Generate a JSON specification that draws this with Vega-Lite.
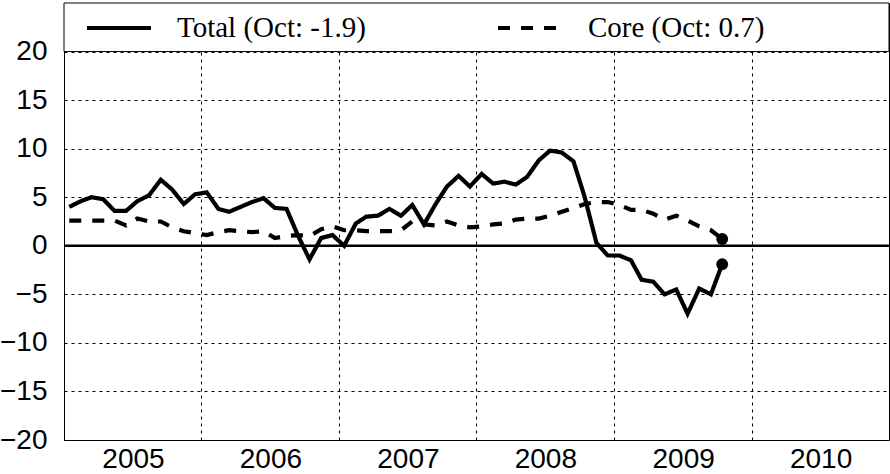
{
  "$schema": "https://vega.github.io/schema/vega-lite/v6.json",
  "width": 825,
  "height": 437,
  "autosize": {"type": "none"},
  "padding": {"left": 64, "top": 3, "right": 1, "bottom": 34},
  "background": "white",
  "config": {
    "view": {"stroke": "black", "strokeWidth": 1},
    "font": "Liberation Sans"
  },
  "data": {
    "values": [
      {"month": "2005-01-15", "total": 4.0, "core": 2.6},
      {"month": "2005-02-15", "total": 4.6, "core": 2.6},
      {"month": "2005-03-15", "total": 5.0, "core": 2.6},
      {"month": "2005-04-15", "total": 4.8, "core": 2.6},
      {"month": "2005-05-15", "total": 3.6, "core": 2.6},
      {"month": "2005-06-15", "total": 3.6, "core": 2.1},
      {"month": "2005-07-15", "total": 4.6, "core": 2.8},
      {"month": "2005-08-15", "total": 5.2, "core": 2.5},
      {"month": "2005-09-15", "total": 6.8, "core": 2.5},
      {"month": "2005-10-15", "total": 5.8, "core": 1.9},
      {"month": "2005-11-15", "total": 4.3, "core": 1.5},
      {"month": "2005-12-15", "total": 5.3, "core": 1.3},
      {"month": "2006-01-15", "total": 5.5, "core": 1.1},
      {"month": "2006-02-15", "total": 3.8, "core": 1.4},
      {"month": "2006-03-15", "total": 3.5, "core": 1.6},
      {"month": "2006-04-15", "total": 4.0, "core": 1.5},
      {"month": "2006-05-15", "total": 4.5, "core": 1.4},
      {"month": "2006-06-15", "total": 4.9, "core": 1.5},
      {"month": "2006-07-15", "total": 3.9, "core": 0.8},
      {"month": "2006-08-15", "total": 3.8, "core": 1.0},
      {"month": "2006-09-15", "total": 1.0, "core": 1.1},
      {"month": "2006-10-15", "total": -1.4, "core": 1.0},
      {"month": "2006-11-15", "total": 0.8, "core": 1.7},
      {"month": "2006-12-15", "total": 1.1, "core": 2.0},
      {"month": "2007-01-15", "total": 0.0, "core": 1.6},
      {"month": "2007-02-15", "total": 2.3, "core": 1.6},
      {"month": "2007-03-15", "total": 3.0, "core": 1.5},
      {"month": "2007-04-15", "total": 3.1, "core": 1.5},
      {"month": "2007-05-15", "total": 3.8, "core": 1.5},
      {"month": "2007-06-15", "total": 3.1, "core": 1.6},
      {"month": "2007-07-15", "total": 4.2, "core": 2.5},
      {"month": "2007-08-15", "total": 2.2, "core": 2.2},
      {"month": "2007-09-15", "total": 4.3, "core": 2.1},
      {"month": "2007-10-15", "total": 6.1, "core": 2.5},
      {"month": "2007-11-15", "total": 7.2, "core": 2.1},
      {"month": "2007-12-15", "total": 6.1, "core": 1.9},
      {"month": "2008-01-15", "total": 7.4, "core": 2.0},
      {"month": "2008-02-15", "total": 6.4, "core": 2.2},
      {"month": "2008-03-15", "total": 6.6, "core": 2.3},
      {"month": "2008-04-15", "total": 6.3, "core": 2.7},
      {"month": "2008-05-15", "total": 7.1, "core": 2.8},
      {"month": "2008-06-15", "total": 8.8, "core": 2.8},
      {"month": "2008-07-15", "total": 9.8, "core": 3.1},
      {"month": "2008-08-15", "total": 9.6, "core": 3.5},
      {"month": "2008-09-15", "total": 8.7, "core": 3.9},
      {"month": "2008-10-15", "total": 5.0, "core": 4.3},
      {"month": "2008-11-15", "total": 0.3, "core": 4.5},
      {"month": "2008-12-15", "total": -1.0, "core": 4.5},
      {"month": "2009-01-15", "total": -1.0, "core": 4.2},
      {"month": "2009-02-15", "total": -1.5, "core": 3.7},
      {"month": "2009-03-15", "total": -3.5, "core": 3.7},
      {"month": "2009-04-15", "total": -3.7, "core": 3.3},
      {"month": "2009-05-15", "total": -5.0, "core": 2.7},
      {"month": "2009-06-15", "total": -4.5, "core": 3.1},
      {"month": "2009-07-15", "total": -7.0, "core": 2.6},
      {"month": "2009-08-15", "total": -4.4, "core": 2.0},
      {"month": "2009-09-15", "total": -5.0, "core": 1.6},
      {"month": "2009-10-15", "total": -1.9, "core": 0.7}
    ]
  },
  "layer": [
    {
      "data": {"values": [{}]},
      "mark": {"type": "rect", "fill": "white", "stroke": "black", "strokeWidth": 1},
      "encoding": {
        "x": {"datum": {"year": 2005, "month": 1, "date": 1, "utc": true}, "type": "temporal", "title": null, "scale": {"type": "utc"}},
        "x2": {"datum": {"year": 2011, "month": 1, "date": 1, "utc": true}},
        "y": {"datum": 20, "type": "quantitative", "title": null},
        "y2": {"datum": 25}
      }
    },
    {
      "data": {"values": [{}]},
      "mark": {"type": "rule", "strokeWidth": 2.5, "color": "black"},
      "encoding": {
        "y": {"datum": 0, "type": "quantitative", "title": null}
      }
    },
    {
      "transform": [{"fold": ["total", "core"], "as": ["series", "value"]}],
      "mark": {"type": "line", "strokeWidth": 4.2, "color": "black"},
      "encoding": {
        "x": {
          "field": "month",
          "type": "temporal",
          "title": null,
          "scale": {
            "type": "utc",
            "domain": [
              {"year": 2005, "month": 1, "date": 1, "utc": true},
              {"year": 2011, "month": 1, "date": 1, "utc": true}
            ]
          },
          "axis": {
            "values": [
              {"year": 2005, "month": 1, "date": 1, "utc": true},
              {"year": 2006, "month": 1, "date": 1, "utc": true},
              {"year": 2007, "month": 1, "date": 1, "utc": true},
              {"year": 2008, "month": 1, "date": 1, "utc": true},
              {"year": 2009, "month": 1, "date": 1, "utc": true},
              {"year": 2010, "month": 1, "date": 1, "utc": true}
            ],
            "format": "%Y",
            "labelOffset": 69,
            "labelFontSize": 28,
            "labelColor": "black",
            "labelPadding": 5,
            "labelFlush": false,
            "labelOverlap": false,
            "ticks": false,
            "domain": false,
            "grid": true,
            "gridColor": "black",
            "gridDash": [3, 4],
            "gridWidth": 1
          }
        },
        "y": {
          "field": "value",
          "type": "quantitative",
          "title": null,
          "scale": {"domain": [-20, 25], "nice": false, "zero": false},
          "axis": {
            "values": [-20, -15, -10, -5, 0, 5, 10, 15, 20],
            "labelFontSize": 28,
            "labelColor": "black",
            "labelPadding": 17,
            "ticks": false,
            "domain": false,
            "grid": true,
            "gridColor": "black",
            "gridDash": [3, 4],
            "gridWidth": 1
          }
        },
        "strokeDash": {
          "field": "series",
          "type": "nominal",
          "scale": {"domain": ["total", "core"], "range": [[1, 0], [12, 11]]},
          "legend": {
            "title": null,
            "orient": "none",
            "legendX": 21,
            "legendY": -9,
            "direction": "horizontal",
            "columns": 2,
            "columnPadding": 124,
            "padding": 0,
            "symbolType": "stroke",
            "symbolSize": 4096,
            "symbolStrokeWidth": 4,
            "symbolStrokeColor": "black",
            "labelFont": "Liberation Serif",
            "labelFontSize": 29,
            "labelColor": "black",
            "labelOffset": 24,
            "labelLimit": 0,
            "labelExpr": "datum.value == 'total' ? 'Total (Oct: -1.9)' : 'Core (Oct: 0.7)'"
          }
        }
      }
    },
    {
      "transform": [
        {"fold": ["total", "core"], "as": ["series", "value"]},
        {"filter": "utcyear(datum.month) == 2009 && utcmonth(datum.month) == 9"}
      ],
      "mark": {"type": "point", "filled": true, "color": "black", "size": 140, "opacity": 1},
      "encoding": {
        "x": {"field": "month", "type": "temporal", "title": null},
        "y": {"field": "value", "type": "quantitative", "title": null}
      }
    }
  ]
}
